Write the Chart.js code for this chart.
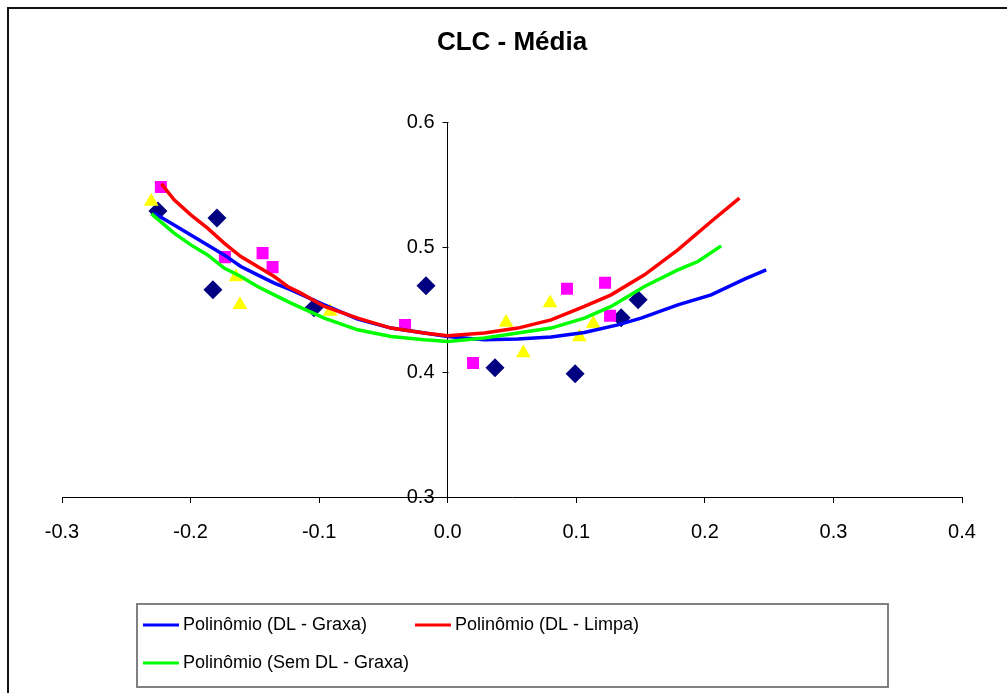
<!DOCTYPE html>
<html>
<head>
<meta charset="utf-8">
<title>CLC - Média</title>
<script src="https://cdn.jsdelivr.net/npm/chart.js@4"></script>
<style>
  html, body { margin: 0; padding: 0; background: #fff; }
  #wrap { position: relative; width: 1007px; height: 693px; overflow: hidden; }
  #frame { position: absolute; left: 7px; top: 7px; width: 1020px; height: 710px; border: 2px solid #111; box-sizing: border-box; }
  #chart { position: absolute; left: 0; top: 0; }
</style>
</head>
<body>
<div id="wrap">
  <div id="frame"></div>
  <canvas id="chart" width="1007" height="693"></canvas>
</div>
<script>
// Axis ticks
const xTicks = [-0.3, -0.2, -0.1, 0.0, 0.1, 0.2, 0.3, 0.4];
const yTicks = [0.3, 0.4, 0.5, 0.6];

// Measured points - DL - Graxa (navy diamonds)
const dlGraxaX = [-0.2254, -0.1795, -0.1826, -0.1040, -0.0169, 0.0368, 0.0991, 0.1349, 0.1481];
const dlGraxaY = [0.529, 0.5234, 0.4658, 0.4514, 0.469, 0.4034, 0.3986, 0.4434, 0.4578];

// Measured points - DL - Limpa (magenta squares)
const dlLimpaX = [-0.2231, -0.1733, -0.1440, -0.1362, -0.0332, 0.0197, 0.0928, 0.1224, 0.1263];
const dlLimpaY = [0.5482, 0.492, 0.4952, 0.484, 0.4376, 0.4072, 0.4666, 0.4714, 0.445];

// Measured points - Sem DL - Graxa (yellow triangles)
const semGraxaX = [-0.2306, -0.1647, -0.1616, -0.0914, 0.0454, 0.0588, 0.0796, 0.1132, 0.1024];
const semGraxaY = [0.5365, 0.476, 0.4538, 0.4485, 0.4397, 0.4152, 0.4552, 0.4386, 0.428];

// Trendline - Polinômio (DL - Graxa)
const trendGraxaX = [-0.2283, -0.2128, -0.1998, -0.1868, -0.1739, -0.1609, -0.1479, -0.1349, -0.1219, -0.0960, -0.0700,
  -0.0441, -0.0182, 0.0, 0.0285, 0.0545, 0.0804, 0.1063, 0.1323, 0.1504, 0.1790, 0.2049, 0.2308, 0.2477];
const trendGraxaY = [0.5272, 0.5178, 0.5098, 0.5018, 0.4938, 0.4845, 0.4778, 0.4712, 0.4658, 0.4538, 0.4424,
  0.4352, 0.4312, 0.4285, 0.4258, 0.4264, 0.428, 0.4317, 0.4378, 0.4432, 0.4538, 0.4618, 0.4744, 0.4818];

// Trendline - Polinômio (DL - Limpa)
const trendLimpaX = [-0.2226, -0.2128, -0.1998, -0.1868, -0.1739, -0.1609, -0.1479, -0.1349, -0.1245, -0.1142, -0.0960,
  -0.0700, -0.0441, -0.0182, 0.0, 0.0285, 0.0545, 0.0804, 0.1063, 0.1271, 0.1530, 0.1790, 0.2049, 0.2269];
const trendLimpaY = [0.5506, 0.5378, 0.5258, 0.5152, 0.5032, 0.4925, 0.4845, 0.4765, 0.4685, 0.4632, 0.4525,
  0.4432, 0.4352, 0.4312, 0.429, 0.4312, 0.4352, 0.4418, 0.4525, 0.4618, 0.4778, 0.4978, 0.5205, 0.5392];

// Trendline - Polinômio (Sem DL - Graxa)
const trendSemX = [-0.2304, -0.2128, -0.1998, -0.1868, -0.1739, -0.1609, -0.1479, -0.1349, -0.1219, -0.0960, -0.0700,
  -0.0441, -0.0182, 0.0, 0.0285, 0.0545, 0.0804, 0.1063, 0.1271, 0.1530, 0.1790, 0.1946, 0.2127];
const trendSemY = [0.5266, 0.5112, 0.5018, 0.4938, 0.4832, 0.4765, 0.4685, 0.4618, 0.4552, 0.4432, 0.4338,
  0.4285, 0.4258, 0.4245, 0.4272, 0.4312, 0.4352, 0.4432, 0.4525, 0.4685, 0.4818, 0.4885, 0.501];

const FONT = "'Liberation Sans', Arial, sans-serif";

function toPoints(xs, ys) {
  return xs.map((x, i) => ({ x: x, y: ys[i] }));
}

function fmt(v) {
  if (Math.abs(v) < 1e-9) return '0.0';
  return v.toFixed(1);
}

function trendDataset(label, xs, ys, color) {
  return {
    label: label,
    data: toPoints(xs, ys),
    showLine: true,
    borderColor: color,
    backgroundColor: color,
    borderWidth: 3.5,
    pointRadius: 0,
    tension: 0
  };
}

function markerDataset(label, xs, ys, color, style, radius) {
  return {
    label: label,
    data: toPoints(xs, ys),
    showLine: false,
    pointStyle: style,
    pointRadius: radius,
    pointBackgroundColor: color,
    pointBorderColor: color,
    pointBorderWidth: 0
  };
}

// Y labels and tick marks sit left of the axis that crosses at x = 0
const yLabels = {
  id: 'yLabels',
  afterDraw(chart) {
    const ctx = chart.ctx;
    const x0 = Math.round(chart.scales.x.getPixelForValue(0)) + 0.5;
    ctx.save();
    ctx.font = '20px ' + FONT;
    ctx.fillStyle = '#000';
    ctx.strokeStyle = '#000';
    ctx.lineWidth = 1;
    ctx.textAlign = 'right';
    ctx.textBaseline = 'middle';
    yTicks.forEach(v => {
      const py = Math.round(chart.scales.y.getPixelForValue(v)) + 0.5;
      ctx.beginPath();
      ctx.moveTo(x0 - 6, py);
      ctx.lineTo(x0, py);
      ctx.stroke();
      ctx.fillText(fmt(v), x0 - 14, py);
    });
    ctx.restore();
  }
};

// Legend box drawn like the Excel one
const legendBox = {
  id: 'legendBox',
  afterDraw(chart) {
    const ctx = chart.ctx;
    const ds = chart.data.datasets;
    const items = [
      { d: ds[2], x: 143, y: 625 },
      { d: ds[1], x: 415, y: 625 },
      { d: ds[0], x: 143, y: 663 }
    ];
    ctx.save();
    ctx.strokeStyle = '#808080';
    ctx.lineWidth = 2;
    ctx.strokeRect(137, 604, 751, 83);
    ctx.font = '18px ' + FONT;
    ctx.fillStyle = '#000';
    ctx.textBaseline = 'middle';
    ctx.textAlign = 'left';
    items.forEach(it => {
      ctx.strokeStyle = it.d.borderColor;
      ctx.lineWidth = 3;
      ctx.beginPath();
      ctx.moveTo(it.x, it.y);
      ctx.lineTo(it.x + 36, it.y);
      ctx.stroke();
      ctx.fillText(it.d.label, it.x + 40, it.y);
    });
    ctx.restore();
  }
};

new Chart(document.getElementById('chart'), {
  type: 'scatter',
  data: {
    datasets: [
      trendDataset('Polinômio (Sem DL - Graxa)', trendSemX, trendSemY, '#00FF00'),
      trendDataset('Polinômio (DL - Limpa)', trendLimpaX, trendLimpaY, '#FF0000'),
      trendDataset('Polinômio (DL - Graxa)', trendGraxaX, trendGraxaY, '#0000FF'),
      markerDataset('Sem DL - Graxa', semGraxaX, semGraxaY, '#FFFF00', 'triangle', 8.5),
      markerDataset('DL - Limpa', dlLimpaX, dlLimpaY, '#FF00FF', 'rect', 8.5),
      markerDataset('DL - Graxa', dlGraxaX, dlGraxaY, '#000080', 'rectRot', 9.5)
    ]
  },
  options: {
    responsive: false,
    animation: false,
    devicePixelRatio: 1,
    layout: { padding: { left: 62, right: 45, top: 0, bottom: 146 } },
    plugins: {
      legend: { display: false },
      tooltip: { enabled: false },
      title: {
        display: true,
        text: 'CLC - Média',
        color: '#000',
        font: { family: FONT, size: 26, weight: 'bold' },
        padding: { top: 27, bottom: 64 }
      }
    },
    scales: {
      x: {
        type: 'linear',
        min: -0.3,
        max: 0.4,
        afterBuildTicks: s => { s.ticks = xTicks.map(v => ({ value: v })); },
        afterFit: s => { s.height = 50; },
        grid: { drawOnChartArea: false, drawTicks: true, tickLength: 6, color: '#000' },
        border: { display: true, color: '#000', width: 1 },
        ticks: {
          color: '#000',
          font: { family: FONT, size: 20 },
          padding: 17,
          maxRotation: 0,
          callback: v => fmt(v)
        }
      },
      y: {
        type: 'linear',
        position: { x: 0 },
        min: 0.3,
        max: 0.6,
        afterBuildTicks: s => { s.ticks = yTicks.map(v => ({ value: v })); },
        grid: { display: false },
        border: { display: true, color: '#000', width: 1 },
        ticks: { display: false }
      }
    }
  },
  plugins: [yLabels, legendBox]
});
</script>
</body>
</html>
